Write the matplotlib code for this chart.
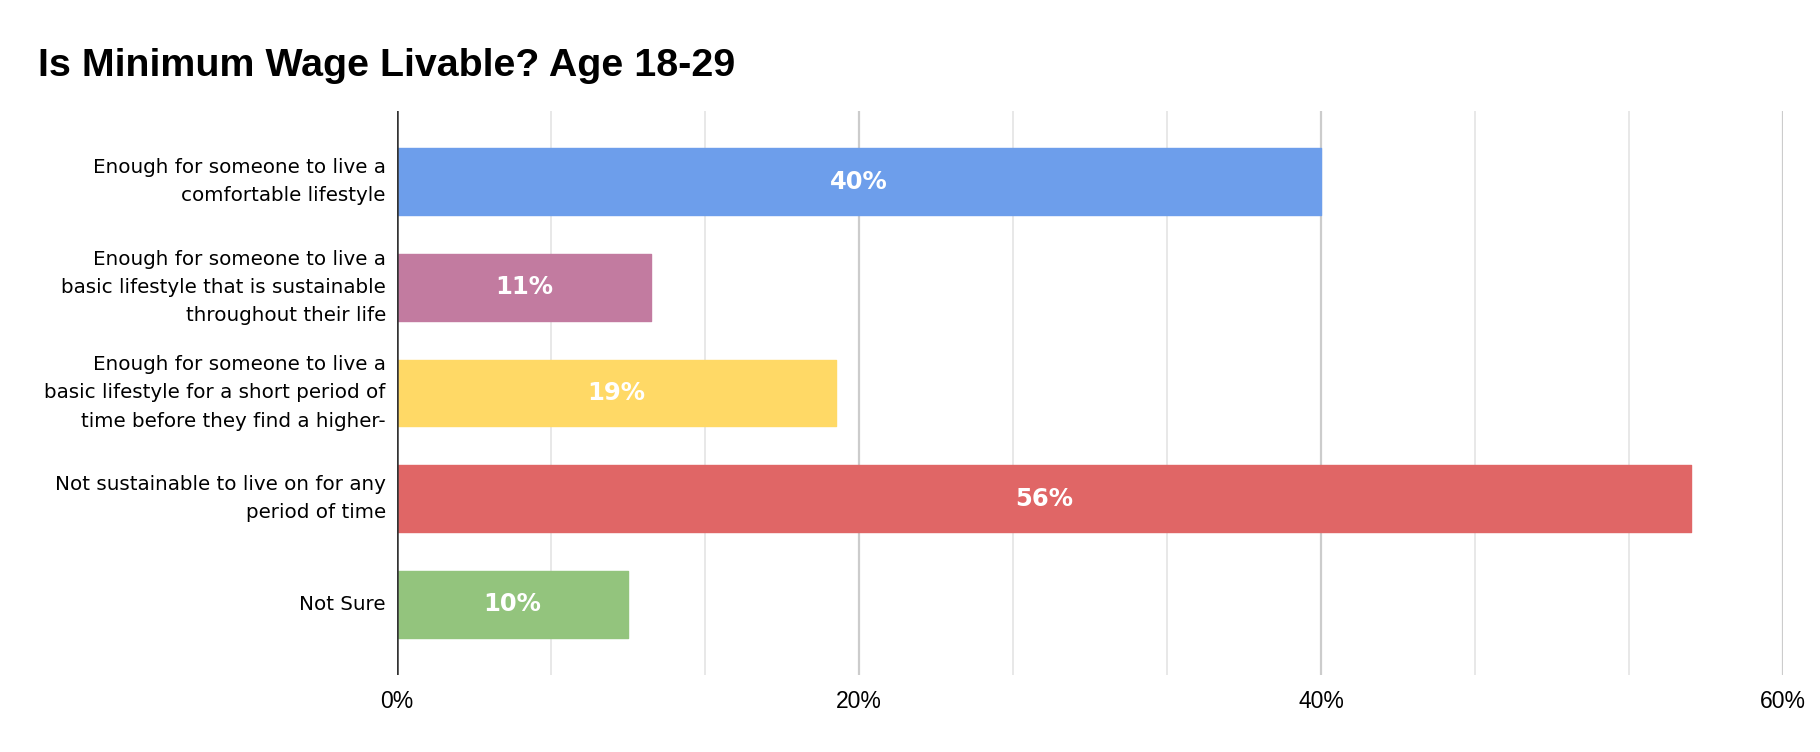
import matplotlib.pyplot as plt
from matplotlib.ticker import MultipleLocator, FuncFormatter

# Du lieu
categories = [
    "Enough for someone to live a\ncomfortable lifestyle",
    "Enough for someone to live a\nbasic lifestyle that is sustainable\nthroughout their life",
    "Enough for someone to live a\nbasic lifestyle for a short period of\ntime before they find a higher-",
    "Not sustainable to live on for any\nperiod of time",
    "Not Sure",
]
values = [40, 11, 19, 56, 10]
colors = ["#6d9eeb", "#c27ba0", "#ffd966", "#e06666", "#93c47d"]
xticks = [0, 20, 40, 60]

fig = plt.figure(figsize=(18.2, 7.52), dpi=100)
ax = fig.add_axes([0.2181, 0.1024, 0.9797 - 0.2181, 0.8524 - 0.1024])

pos = list(range(len(categories)))
bars = ax.barh(pos, values, height=0.63, color=colors, edgecolor=colors,
               linewidth=1.0, joinstyle="round", zorder=3)

# Nhan gia tri trong thanh
for b, v in zip(bars, values):
    ax.text(b.get_width() / 2, b.get_y() + b.get_height() / 2, f"{v}%",
            ha="center", va="center", color="white", fontsize=17.5,
            fontweight="bold", family="DejaVu Sans", zorder=4)

ax.set_ylim(len(categories) - 1 + 0.67, -0.67)
ax.set_xlim(0, 60)
ax.set_yticks(pos)
ax.set_yticklabels(categories, fontsize=14.3, family="DejaVu Sans",
                   linespacing=1.62, va="center")
ax.set_xticks(xticks)
ax.xaxis.set_major_formatter(FuncFormatter(lambda x, p: f"{x:.0f}%"))
ax.xaxis.set_minor_locator(MultipleLocator(20 / 3))

ax.tick_params(axis="both", which="both", length=0)
ax.tick_params(axis="y", pad=8)
ax.tick_params(axis="x", pad=11, labelsize=16.5, labelfontfamily="Liberation Sans")

ax.grid(axis="x", which="major", color="#cccccc", linewidth=1.6, zorder=0)
ax.grid(axis="x", which="minor", color="#e6e6e6", linewidth=1.3, zorder=0)
ax.grid(axis="y", visible=False)
ax.axvline(0, color="#333333", linewidth=1.8, zorder=5)
for s in ax.spines.values():
    s.set_visible(False)

fig.text(0.0209, 1 - 76 / 752, "Is Minimum Wage Livable? Age 18-29",
         family="Liberation Sans", fontweight="bold", fontsize=28.4,
         ha="left", va="baseline")

fig.savefig("out.png", dpi=100, facecolor="white")
